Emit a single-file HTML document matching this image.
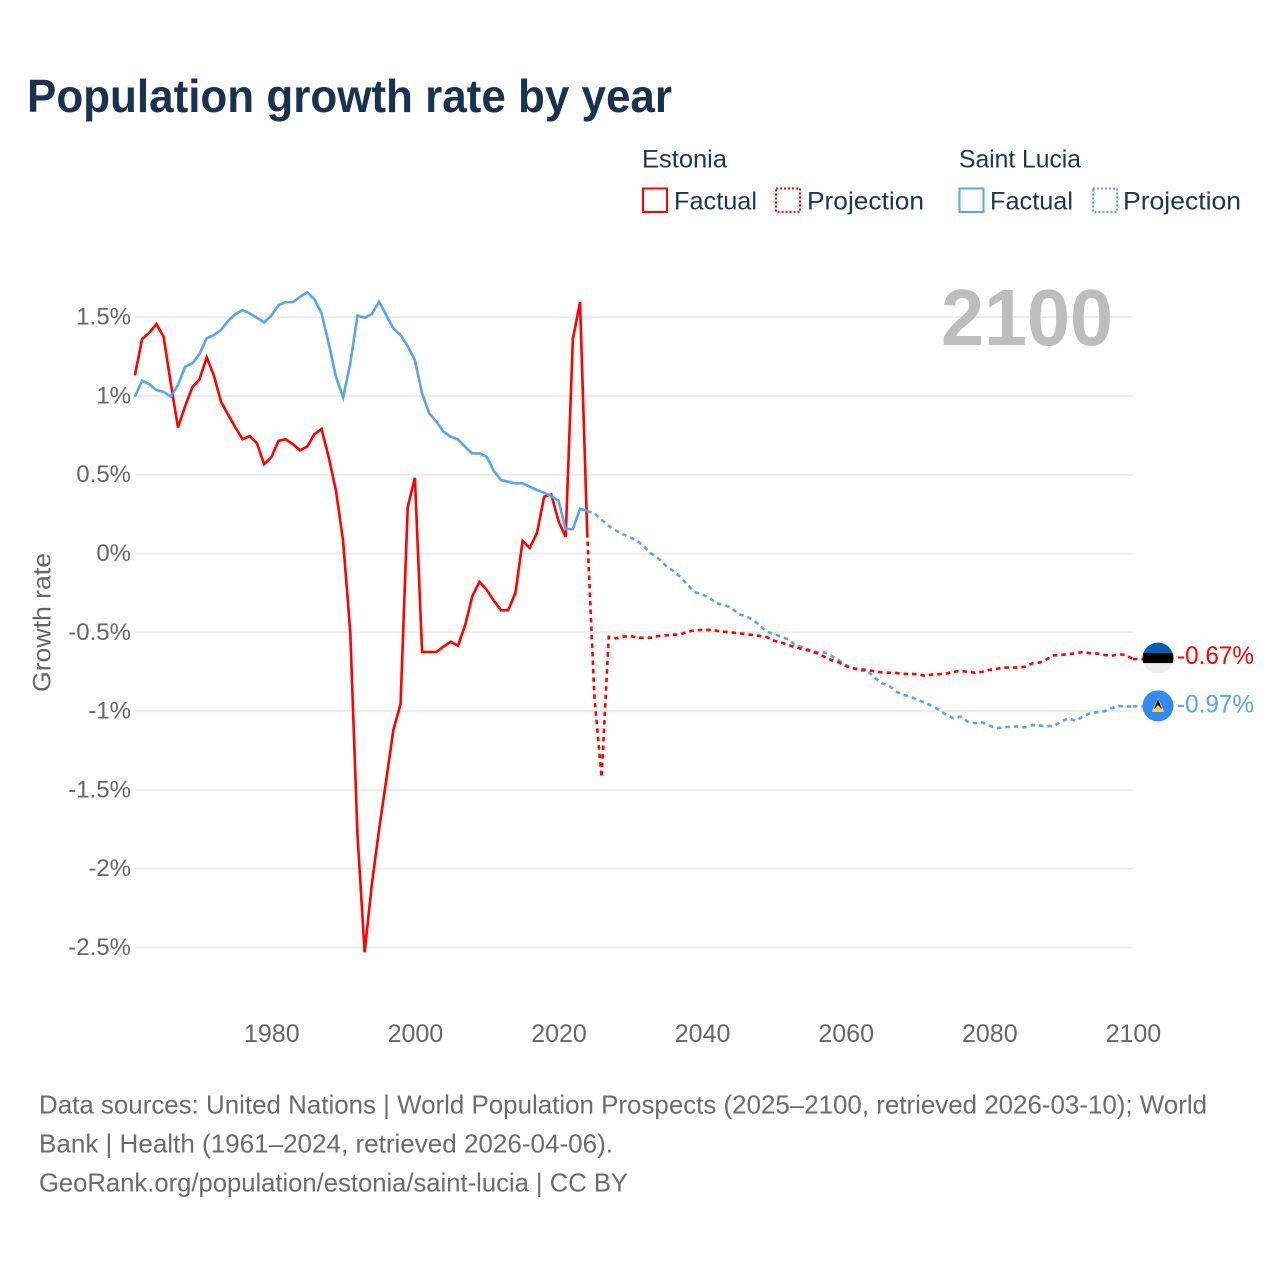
<!DOCTYPE html>
<html lang="en">
<head>
<meta charset="utf-8">
<title>Population growth rate by year</title>
<style>
  html, body { margin: 0; padding: 0; background: #fff; }
  svg { display: block; }
  text { font-family: "Liberation Sans", sans-serif; }
</style>
</head>
<body>
<svg id="chart" xmlns="http://www.w3.org/2000/svg" width="1280" height="1280" viewBox="0 0 1280 1280">
  <defs>
    <clipPath id="flag-clip"><circle r="15.5"/></clipPath>
  </defs>
  <rect width="1280" height="1280" fill="#fff"/>
  <text x="27" y="112" font-size="46" font-weight="700" fill="#18324f" textLength="645" lengthAdjust="spacingAndGlyphs">Population growth rate by year</text>

  <g font-size="25" fill="#1b3555">
    <text x="642" y="167.5" textLength="85" lengthAdjust="spacingAndGlyphs">Estonia</text>
    <text x="959" y="167.5" textLength="122" lengthAdjust="spacingAndGlyphs">Saint Lucia</text>
    <rect x="643" y="188.5" width="24" height="23.5" fill="none" stroke="#ff0000" stroke-width="2"/>
    <text x="674" y="209.5" textLength="83" lengthAdjust="spacingAndGlyphs">Factual</text>
    <rect x="776" y="188.5" width="24" height="23.5" fill="none" stroke="#ff0000" stroke-width="2" stroke-dasharray="2 2"/>
    <text x="807" y="209.5" textLength="117" lengthAdjust="spacingAndGlyphs">Projection</text>
    <rect x="959.5" y="188.5" width="24" height="23.5" fill="none" stroke="#5ba4ec" stroke-width="2"/>
    <text x="990" y="209.5" textLength="83" lengthAdjust="spacingAndGlyphs">Factual</text>
    <rect x="1093" y="188.5" width="24" height="23.5" fill="none" stroke="#5ba4ec" stroke-width="2" stroke-dasharray="2 2"/>
    <text x="1123" y="209.5" textLength="118" lengthAdjust="spacingAndGlyphs">Projection</text>
  </g>

  <g id="grid"></g>
  <g id="yticks" font-size="24" fill="#666" text-anchor="end"></g>
  <g id="xticks" font-size="25" fill="#666" text-anchor="middle"></g>
  <text transform="translate(50.5 692) rotate(-90)" font-size="25" fill="#666" textLength="139" lengthAdjust="spacingAndGlyphs">Growth rate</text>
  <text x="941" y="345" font-size="80" font-weight="700" fill="#bdbdbd" textLength="172" lengthAdjust="spacingAndGlyphs">2100</text>

  <g id="series"></g>
  <g id="ends"></g>

  <g font-size="26" fill="#6b6b6b">
    <text x="39" y="1113.5" textLength="1168" lengthAdjust="spacingAndGlyphs">Data sources: United Nations | World Population Prospects (2025–2100, retrieved 2026-03-10); World</text>
    <text x="39" y="1152.5" textLength="574" lengthAdjust="spacingAndGlyphs">Bank | Health (1961–2024, retrieved 2026-04-06).</text>
    <text x="39" y="1191.5" textLength="589" lengthAdjust="spacingAndGlyphs">GeoRank.org/population/estonia/saint-lucia | CC BY</text>
  </g>
</svg>
<script>
const yTickValues = [1.5, 1, 0.5, 0, -0.5, -1, -1.5, -2, -2.5];
const yTickLabels = ["1.5%", "1%", "0.5%", "0%", "-0.5%", "-1%", "-1.5%", "-2%", "-2.5%"];
const xTickValues = [1980, 2000, 2020, 2040, 2060, 2080, 2100];
const xTickLabels = ["1980", "2000", "2020", "2040", "2060", "2080", "2100"];

const factualStartYear = 1961;
const projectionStartYear = 2024;

const estoniaFactual = [
  1.13, 1.36, 1.40, 1.456, 1.375, 1.08, 0.80, 0.935, 1.055, 1.105,
  1.245, 1.13, 0.963, 0.88, 0.80, 0.725, 0.745, 0.70, 0.567, 0.61,
  0.715, 0.725, 0.694, 0.655, 0.678, 0.757, 0.79, 0.61, 0.40, 0.08,
  -0.5, -1.785, -2.53, -2.10, -1.755, -1.44, -1.12, -0.955, 0.295, 0.48,
  -0.625, -0.625, -0.625, -0.59, -0.56, -0.585, -0.455, -0.27, -0.18, -0.23,
  -0.30, -0.36, -0.36, -0.25, 0.08, 0.035, 0.13, 0.36, 0.375, 0.205,
  0.105, 1.36, 1.595, 0.13
];
const estoniaProjection = [
  0.13, -0.91, -1.42, -0.528, -0.538, -0.528, -0.523, -0.534, -0.536, -0.534,
  -0.523, -0.519, -0.515, -0.513, -0.496, -0.487, -0.485, -0.485, -0.49, -0.496,
  -0.50, -0.506, -0.511, -0.517, -0.523, -0.53, -0.553, -0.564, -0.58, -0.595,
  -0.608, -0.616, -0.633, -0.654, -0.676, -0.69, -0.714,
  -0.728, -0.735, -0.739, -0.747, -0.754, -0.756, -0.758, -0.764, -0.764, -0.766,
  -0.775, -0.768, -0.766, -0.762, -0.751, -0.745, -0.751, -0.756, -0.751, -0.739,
  -0.732, -0.724, -0.724, -0.724, -0.718, -0.697, -0.692, -0.671, -0.646, -0.644,
  -0.639, -0.633, -0.625, -0.633, -0.635, -0.644, -0.65, -0.639, -0.644, -0.67
];
const luciaFactual = [
  0.995, 1.096, 1.075, 1.037, 1.026, 0.995, 1.069, 1.185, 1.206, 1.265,
  1.365, 1.386, 1.418, 1.477, 1.519, 1.545, 1.523, 1.496, 1.466, 1.509,
  1.576, 1.595, 1.595, 1.629, 1.657, 1.614, 1.523, 1.333, 1.122, 0.99,
  1.206, 1.509, 1.496, 1.519, 1.598, 1.513, 1.428, 1.386, 1.316, 1.227,
  1.016, 0.889, 0.836, 0.773, 0.741, 0.724, 0.677, 0.635, 0.635, 0.614,
  0.523, 0.466, 0.455, 0.445, 0.445, 0.424, 0.403, 0.386, 0.364, 0.335,
  0.155, 0.155, 0.284, 0.269
];
const luciaProjection = [
  0.269, 0.255, 0.213, 0.175, 0.145, 0.122, 0.101, 0.081, 0.039, -0.003,
  -0.035, -0.079, -0.111, -0.151, -0.2, -0.246, -0.259, -0.28, -0.316, -0.327,
  -0.341, -0.384, -0.396, -0.418, -0.454, -0.496, -0.511, -0.528, -0.545, -0.58,
  -0.595, -0.612, -0.627, -0.627, -0.65, -0.676, -0.707,
  -0.728, -0.745, -0.743, -0.787, -0.823, -0.838, -0.876, -0.897, -0.908, -0.929,
  -0.946, -0.967, -0.993, -1.024, -1.045, -1.035, -1.067, -1.077, -1.071, -1.092,
  -1.109, -1.103, -1.098, -1.098, -1.103, -1.088, -1.092, -1.096, -1.094, -1.067,
  -1.045, -1.062, -1.035, -1.014, -1.007, -1.001, -0.982, -0.967, -0.971, -0.97
];
const endLabels = ["-0.67%", "-0.97%"];

const SVG_NS = "http://www.w3.org/2000/svg";
function xScale(year) { return 271.3 + (year - 1980) * 7.18; }
function yScale(value) { return 553.5 - value * 157.6; }
function make(tag, attrs, parent) {
  const el = document.createElementNS(SVG_NS, tag);
  for (const k in attrs) el.setAttribute(k, attrs[k]);
  parent.appendChild(el);
  return el;
}
function pathFor(values, startYear) {
  return values.map(function (v, i) {
    return (i ? "L" : "M") + xScale(startYear + i).toFixed(2) + " " + yScale(v).toFixed(2);
  }).join(" ");
}

const gridG = document.getElementById("grid");
const yG = document.getElementById("yticks");
const xG = document.getElementById("xticks");
const seriesG = document.getElementById("series");
const endsG = document.getElementById("ends");

yTickValues.forEach(function (v, i) {
  const line = make("line", { x1: xScale(1961), x2: xScale(2100), y1: yScale(v), y2: yScale(v), stroke: "#ececec", "stroke-width": 2 }, gridG);
  
  
  const t = make("text", { x: 131, y: yScale(v) + 7.5 }, yG);
  
  
  t.textContent = yTickLabels[i];
});

xTickValues.forEach(function (v, i) {
  const t = make("text", { x: xScale(v) + 0.5, y: 1042 }, xG);
  
  
  t.textContent = xTickLabels[i];
});

function drawLine(values, startYear, color, dashed, name) {
  const attrs = { d: pathFor(values, startYear), fill: "none", stroke: color, "stroke-width": 2.6, "stroke-linejoin": "miter" };
  if (dashed) attrs["stroke-dasharray"] = "4.5 4";
  const p = make("path", attrs, seriesG);
  
  
}
drawLine(estoniaFactual, factualStartYear, "#ff0000", false, "estonia-factual-line");
drawLine(luciaFactual, factualStartYear, "#5ba4ec", false, "saint-lucia-factual-line");
drawLine(luciaProjection, projectionStartYear, "#5ba4ec", true, "saint-lucia-projection-line");
drawLine(estoniaProjection, projectionStartYear, "#ff0000", true, "estonia-projection-line");

const lastEstonia = estoniaProjection[estoniaProjection.length - 1];
const lastLucia = luciaProjection[luciaProjection.length - 1];
const endX = xScale(2100);

const c1 = make("line", { x1: endX, x2: 1144, y1: yScale(lastEstonia), y2: yScale(lastEstonia), stroke: "#ff0000", "stroke-width": 2.6, "stroke-dasharray": "4.5 4" }, endsG);


const c2 = make("line", { x1: endX, x2: 1144, y1: yScale(lastLucia), y2: yScale(lastLucia), stroke: "#5ba4ec", "stroke-width": 2.6, "stroke-dasharray": "4.5 4" }, endsG);



/* Estonia flag */
const fy = yScale(lastEstonia) - 1;
const flagE = make("g", { transform: "translate(1158 " + fy + ")", "clip-path": "url(#flag-clip)" }, endsG);


make("rect", { x: -16, y: -16, width: 32, height: 32, fill: "#eeeeee" }, flagE);
make("rect", { x: -16, y: -16, width: 32, height: 11, fill: "#0a5cb5" }, flagE);
make("rect", { x: -16, y: -5, width: 32, height: 10, fill: "#000" }, flagE);

/* Saint Lucia flag */
const ly = yScale(lastLucia) - 0.5;
const flagL = make("g", { transform: "translate(1158 " + ly + ")", "clip-path": "url(#flag-clip)" }, endsG);


make("rect", { x: -16, y: -16, width: 32, height: 32, fill: "#338af3" }, flagL);
make("path", { d: "M0 -8 L6 6 L-6 6 Z", fill: "#f5f5f5" }, flagL);
make("path", { d: "M0 -7 L4 3 L-4 3 Z", fill: "#111" }, flagL);
make("path", { d: "M0 -1 L6 6 L-6 6 Z", fill: "#ffce4a" }, flagL);

const labelE = make("text", { x: 1177, y: yScale(lastEstonia) + 5, "font-size": 25, fill: "#ff0000", textLength: 77, lengthAdjust: "spacingAndGlyphs" }, endsG);


labelE.textContent = endLabels[0];
const labelL = make("text", { x: 1177, y: yScale(lastLucia) + 6, "font-size": 25, fill: "#5ba4ec", textLength: 77, lengthAdjust: "spacingAndGlyphs" }, endsG);


labelL.textContent = endLabels[1];
</script>
</body>
</html>
